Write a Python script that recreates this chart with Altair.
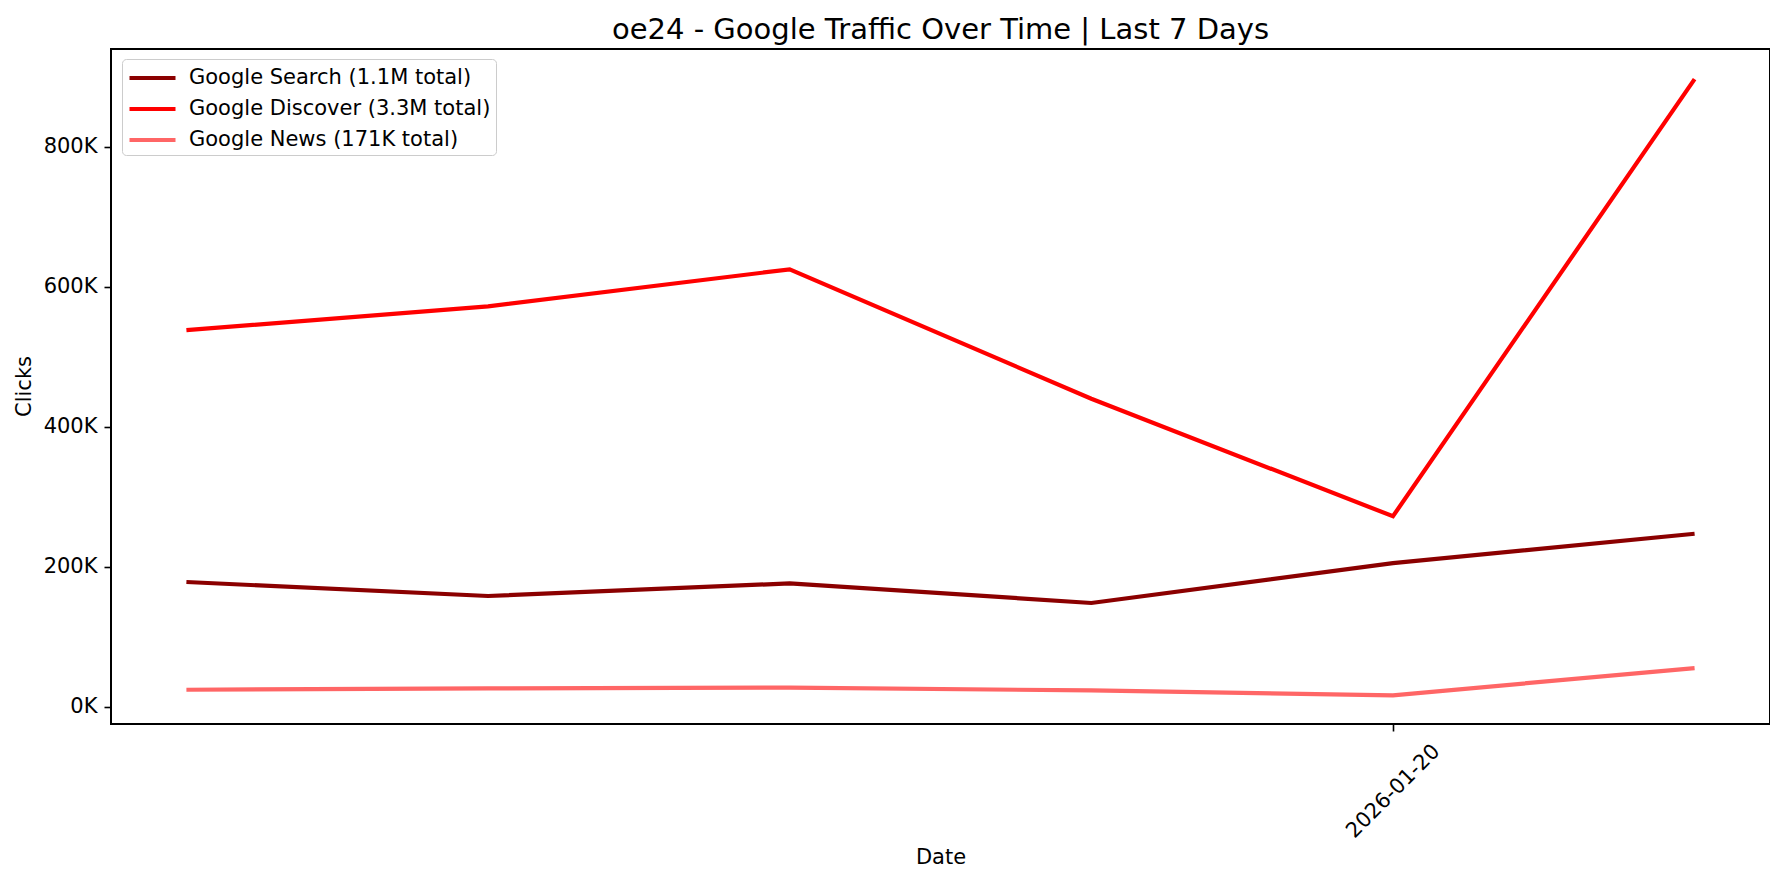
import altair as alt
import pandas as pd

dates = ["2026-01-16", "2026-01-17", "2026-01-18", "2026-01-19", "2026-01-20", "2026-01-21"]
search = [178000, 158000, 176000, 148000, 205000, 247000]
discover = [538000, 572000, 625000, 440000, 272000, 897000]
news = [24000, 26000, 27000, 23000, 16000, 55000]

series_names = ["Google Search (1.1M total)", "Google Discover (3.3M total)", "Google News (171K total)"]
series_colors = ["#8B0000", "#FF0000", "#FF6666"]

rows = []
for name, vals in zip(series_names, [search, discover, news]):
    for d, v in zip(dates, vals):
        rows.append({"date": d, "clicks": v, "series": name})
df = pd.DataFrame(rows)

FONT = "DejaVu Sans"

chart = alt.Chart(df).mark_line(strokeWidth=4.2, clip=True).encode(
    x=alt.X(
        "date:T",
        scale=alt.Scale(
            type="utc",
            domain=[
                alt.DateTime(year=2026, month=1, date=15, hours=18, utc=True),
                alt.DateTime(year=2026, month=1, date=21, hours=6, utc=True),
            ],
        ),
        axis=alt.Axis(
            title="Date",
            values=[alt.DateTime(year=2026, month=1, date=20, utc=True)],
            labelExpr="utcFormat(datum.value, '%Y-%m-%d')",
            labelAngle=315,
            labelAlign="center",
            labelBaseline="middle",
            labelPadding=60,
            tickSize=7,
            tickColor="#000000",
            domain=False,
            grid=False,
            titleY=133,
            titleBaseline="middle",
        ),
    ),
    y=alt.Y(
        "clicks:Q",
        scale=alt.Scale(domain=[-25000, 940000], nice=False, zero=False),
        axis=alt.Axis(
            title="Clicks",
            values=[0, 200000, 400000, 600000, 800000],
            labelExpr="format(datum.value / 1000, 'd') + 'K'",
            tickSize=7,
            tickColor="#000000",
            labelPadding=7,
            domain=False,
            grid=False,
            titleX=-87,
            titleY=337,
            titleAngle=270,
            titleAlign="center",
            titleBaseline="middle",
        ),
    ),
    color=alt.Color(
        "series:N",
        scale=alt.Scale(domain=series_names, range=series_colors),
        sort=series_names,
        legend=alt.Legend(
            title=None,
            orient="none",
            legendX=11,
            legendY=10,
            symbolType="M-1,0H3",
            symbolSize=529,
            symbolStrokeWidth=4.2,
            labelFontSize=21,
            labelFont=FONT,
            labelColor="#000000",
            labelOffset=34,
            labelLimit=0,
            rowPadding=7,
            padding=5,
            fillColor="white",
            strokeColor="#cccccc",
            cornerRadius=4,
        ),
    ),
).properties(
    width=1659,
    height=675,
    padding={"left": 5, "top": 8, "right": 0, "bottom": 0},
    title=alt.Title(
        "oe24 - Google Traffic Over Time | Last 7 Days",
        fontSize=29,
        font=FONT,
        fontWeight="normal",
        color="#000000",
        offset=4,
    ),
).configure_view(
    stroke="#000000", strokeWidth=2
).configure_axis(
    labelFont=FONT,
    labelFontSize=21,
    labelColor="#000000",
    titleFont=FONT,
    titleFontSize=21,
    titleFontWeight="normal",
    titleColor="#000000",
    tickWidth=1.6,
)

chart.save("out.html", embed_options={"renderer": "svg", "actions": False})
